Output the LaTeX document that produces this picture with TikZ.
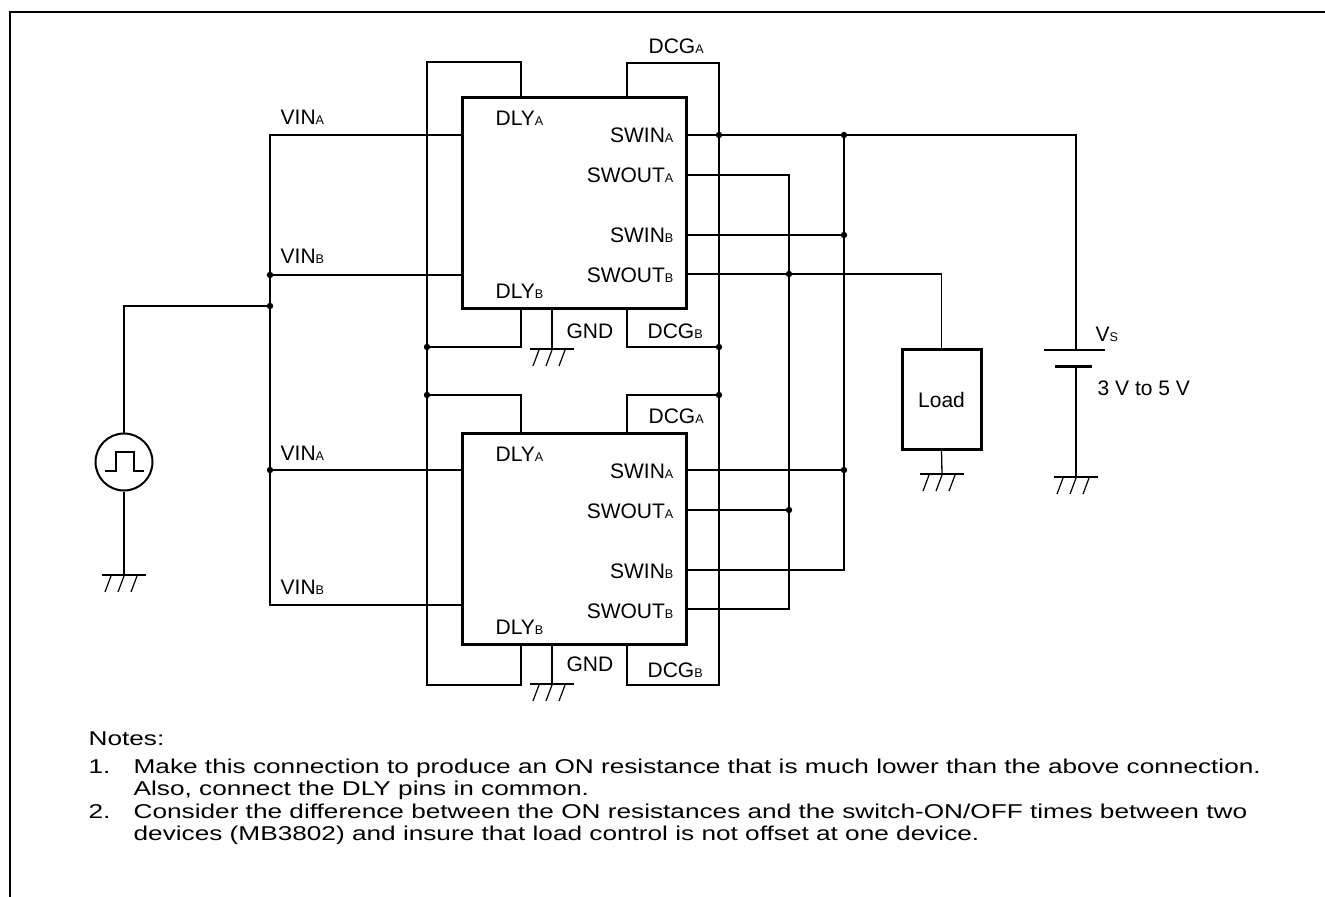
\documentclass[tikz,border=0pt]{standalone}
\usepackage{fontspec}
\setmainfont{Liberation Sans}
\newfontfamily\notefont[FakeStretch=1.31]{Liberation Sans}
\usetikzlibrary{positioning}
\newcommand\lbl{\fontsize{10.5}{12}\selectfont}
\newcommand\notes{\notefont\fontsize{10}{11}\selectfont}
\newcommand\sub[1]{{\fontsize{6.3}{7}\selectfont #1}}
\newcommand\junc[1]{\fill (#1) circle[radius=1.6pt];}
\tikzset{wire/.style={line width=0.65pt}}
\tikzset{chip/.style={draw, line width=1.5pt, inner sep=0pt, minimum width=112pt, minimum height=105.5pt}}
\tikzset{loadbox/.style={draw, line width=1.5pt, inner sep=0pt, minimum width=39.5pt, minimum height=49.5pt, font=\lbl}}
\tikzset{pinl/.style={inner sep=0pt, anchor=base west, font=\lbl}}
\tikzset{pinr/.style={inner sep=0pt, anchor=base east, font=\lbl}}
\tikzset{notel/.style={inner sep=0pt, anchor=base west, font=\notes}}
\tikzset{gnd/.pic={\draw[line width=1.4pt] (-22,0) -- (22,0);
    \foreach \dx in {-13,0,13} \draw[line width=0.6pt] (\dx,1) -- (\dx-6,17);}}

\begin{document}
\begin{tikzpicture}[x=0.5pt, y=-0.5pt, wire]
  \useasboundingbox (0,0) rectangle (1325,897);
  % frame
  \draw[line width=1pt] (1325,12) -- (10,12) -- (10,897);

  % the two devices
  \foreach \c/\dy/\vb in {1/0/275, 2/335/605}{
    \node[chip] (ic\c) at (574,203.5+\dy) {};
    \coordinate (vina\c) at (462,135+\dy);
    \coordinate (vinb\c) at (462,\vb);
    \coordinate (swina\c) at (686,135+\dy);
    \coordinate (swouta\c) at (686,175+\dy);
    \coordinate (swinb\c) at (686,235+\dy);
    \coordinate (swoutb\c) at (686,274+\dy);
    \coordinate (dlya\c) at (521,98+\dy);
    \coordinate (dlyb\c) at (521,309+\dy);
    \coordinate (dcga\c) at (627,98+\dy);
    \coordinate (dcgb\c) at (627,309+\dy);
    \coordinate (gnd\c) at (552,309+\dy);
    \node[pinl] at (495,126+\dy) {DLY\sub{A}};
    \node[pinl] at (495,299+\dy) {DLY\sub{B}};
    \node[pinr] at (674,143+\dy) {SWIN\sub{A}};
    \node[pinr] at (674,183+\dy) {SWOUT\sub{A}};
    \node[pinr] at (674,243+\dy) {SWIN\sub{B}};
    \node[pinr] at (674,283+\dy) {SWOUT\sub{B}};
    \node[pinl] at (280,125+\dy) {VIN\sub{A}};
    \node[pinl] at (280,\vb-11) {VIN\sub{B}};
    \coordinate (gp\c) at (552,349+\dy);
    \draw (gnd\c) -- (gp\c);
    \pic at (gp\c) {gnd};
  }
  \node[pinl] at (566,339) {GND};
  \node[pinl] at (566,671) {GND};
  \node[pinl] at (648,54) {DCG\sub{A}};
  \node[pinl] at (647,339) {DCG\sub{B}};
  \node[pinl] at (648,423) {DCG\sub{A}};
  \node[pinl] at (647,677) {DCG\sub{B}};

  % VIN bus and pulse source
  \coordinate (jv1) at (270,275);
  \coordinate (jsrc) at (270,306);
  \coordinate (jv2) at (270,470);
  \draw (vina1) -| (jv1) -- (jv2) |- (vinb2);
  \draw (vinb1) -- (jv1);
  \draw (vina2) -- (jv2);
  \node[draw, circle, line width=1pt, minimum size=28.5pt, inner sep=0pt] (src) at (124,462) {};
  \draw[line width=1pt] (src.center) ++(-19,9) -- ++(11,0) -- ++(0,-19) -- ++(18,0) -- ++(0,19) -- ++(10,0);
  \draw (jsrc) -| (src.north);
  \coordinate (gs) at (124,575);
  \draw (src.south) -- (gs);
  \pic at (gs) {gnd};

  % DLY bus
  \coordinate (jd1) at (427,347);
  \coordinate (jd2) at (427,395);
  \draw (dlya1) |- (427,62) -- (427,685) -| (dlyb2);
  \draw (dlyb1) |- (jd1);
  \draw (dlya2) |- (jd2);

  % DCG bus
  \coordinate (js0) at (719,135);
  \coordinate (jg1) at (719,347);
  \coordinate (jg2) at (719,395);
  \draw (dcga1) |- (719,63) -- (719,685) -| (dcgb2);
  \draw (dcgb1) |- (jg1);
  \draw (dcga2) |- (jg2);

  % SWIN bus to the supply
  \coordinate (jw0) at (844,135);
  \coordinate (jw1) at (844,235);
  \coordinate (jw2) at (844,470);
  \coordinate (vsp) at (1076,350);
  \coordinate (vsn) at (1076,367);
  \draw (swina1) -| (vsp);
  \draw (jw0) |- (swinb2);
  \draw (swinb1) -- (jw1);
  \draw (swina2) -- (jw2);

  % SWOUT bus to the load
  \coordinate (jo1) at (789,274);
  \coordinate (jo2) at (789,510);
  \node[loadbox] (load) at (941.5,399.5) {Load};
  \draw (swouta1) -| (jo1) -- (jo2) |- (swoutb2);
  \draw (swoutb1) -| (load.north);
  \draw (swouta2) -- (jo2);
  \coordinate (gl) at (942,474);
  \draw (load.south) -- (gl);
  \pic at (gl) {gnd};

  % supply
  \draw (1044,350) -- (1105,350);
  \draw[line width=1.5pt] (1055,367) -- (1092,367);
  \coordinate (gb) at (1076,477);
  \draw (vsn) -- (gb);
  \pic at (gb) {gnd};
  \node[pinl] at (1095,342) {V\sub{S}};
  \node[pinl] at (1097,395) {3 V to 5 V};

  % junctions
  \foreach \j in {jv1,jsrc,jv2,jd1,jd2,js0,jg1,jg2,jw0,jw1,jw2,jo1,jo2} {\junc{\j}}

  % notes
  \node[notel] at (88,745) {Notes:};
  \node[notel] at (88,773) {1.};
  \node[notel] at (133,773) {Make this connection to produce an ON resistance that is much lower than the above connection.};
  \node[notel] at (133,795) {Also, connect the DLY pins in common.};
  \node[notel] at (88,818) {2.};
  \node[notel] at (133,818) {Consider the difference between the ON resistances and the switch-ON/OFF times between two};
  \node[notel] at (133,840) {devices (MB3802) and insure that load control is not offset at one device.};
\end{tikzpicture}
\end{document}
